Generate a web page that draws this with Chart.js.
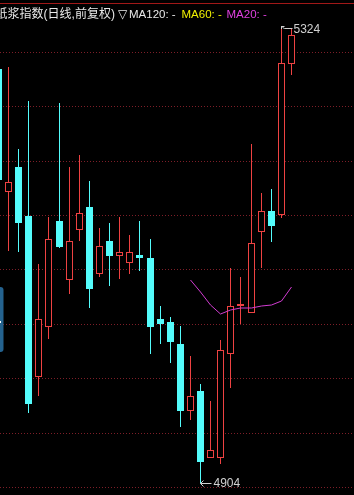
<!DOCTYPE html>
<html><head><meta charset="utf-8">
<style>html,body{margin:0;padding:0;background:#000;overflow:hidden}canvas{display:block}</style>
<script src="https://cdn.jsdelivr.net/npm/chart.js@4.4.1/dist/chart.umd.min.js"></script>
</head><body>
<canvas id="c" width="354" height="495"></canvas>
<script>
// ---- data ----
const candleIdx = [0,1,2,3,4,5,6,7,8,9,10,11,12,13,14,15,16,17,18,19,20,21,22,23,24,25,26,27,28,29];
const opens  = [5284,5171,5194,5149,5001,5047,5145,5090,5136,5157,5096,5126,5112,5106,5113,5111,5054,5052,5031,4970,4988,4927,4927,5022,5066,5060,5134,5154,5150,5289];
const closes = [5182,5180,5143,4976,5054,5128,5121,5126,5152,5082,5122,5112,5116,5116,5111,5047,5050,5033,4970,4984,4923,4934,5026,5066,5068,5124,5154,5140,5290,5316];
const highs  = [5287,5286,5211,5255,5105,5148,5253,5194,5205,5181,5138,5143,5148,5132,5145,5128,5066,5056,5048,5020,4995,4979,5035,5101,5093,5215,5170,5174,5324,5321];
const lows   = [5178,5117,5116,4968,4984,5036,5120,5077,5126,5065,5093,5085,5091,5096,5099,5022,5031,5014,4955,4962,4904,4927,4921,4991,5050,5060,5101,5125,5147,5279];
const ma20Idx = [19,20,21,22,23,24,25,26,27,28,29];
const ma20    = [5090,5079,5067,5059,5063,5065,5065,5066,5067,5071,5084];
const gridValues = [4900,4950,5000,5050,5100,5150,5200,5250,5300];
const titleText = '纸浆指数(日线,前复权)';
const titleMark = '▽';
const maLabels = ['MA120: -','MA60: -','MA20: -'];
const maColors = ['#e8e8e8','#f0f000','#e040e0'];

const UP = 'rgb(238,66,66)';
const DOWN = 'rgb(84,252,252)';
const isUp = candleIdx.map(i => closes[i] >= opens[i]);

const wickData = candleIdx.map(i => ({x: i, y: [lows[i], highs[i]]}));
const bodyData = candleIdx.map(i => ({x: i, y: [opens[i], closes[i]]}));
const maData = ma20Idx.map((x, k) => ({x, y: ma20[k]}));

const hiIdx = highs.indexOf(Math.max(...highs));
const loIdx = lows.indexOf(Math.min(...lows));

const deco = {
  id: 'deco',
  beforeDraw(chart) {
    const c = chart.ctx;
    c.save();
    c.fillStyle = '#000';
    c.fillRect(0, 0, chart.width, chart.height);
    c.restore();
  },
  beforeDatasetsDraw(chart) {
    chart.ctx.save();
    chart.ctx.translate(0.5, 0);
  },
  afterDatasetsDraw(chart) {
    const c = chart.ctx;
    const xs = chart.scales.x, ys = chart.scales.y;
    c.strokeStyle = '#d0d0d0';
    c.fillStyle = '#d0d0d0';
    c.lineWidth = 1;
    c.font = "12px 'Liberation Sans', Arial, sans-serif";
    c.textBaseline = 'middle';
    // high marker
    let px = xs.getPixelForValue(hiIdx), py = Math.round(ys.getPixelForValue(highs[hiIdx]));
    c.beginPath();
    c.moveTo(px, py + 0.5); c.lineTo(px + 3, py + 0.5);
    c.moveTo(px, py); c.lineTo(px, py + 3);
    c.moveTo(px, py); c.lineTo(px + 3, py + 3);
    c.moveTo(px + 3, py + 2.5); c.lineTo(px + 11, py + 2.5);
    c.stroke();
    c.fillText(String(highs[hiIdx]), px + 12, py + 4);
    // low marker
    px = xs.getPixelForValue(loIdx); py = Math.round(ys.getPixelForValue(lows[loIdx])) + 0.5;
    c.beginPath();
    c.moveTo(px, py); c.lineTo(px + 11, py);
    c.moveTo(px, py); c.lineTo(px + 3, py - 3);
    c.moveTo(px, py); c.lineTo(px + 3, py + 3);
    c.stroke();
    c.fillText(String(lows[loIdx]), px + 13, py + 0.5);
    c.restore();
  },
  afterDraw(chart) {
    const c = chart.ctx;
    c.save();
    // top rule
    c.fillStyle = '#a01818';
    c.fillRect(0, 3, chart.width, 1);
    // header
    c.textBaseline = 'alphabetic';
    c.font = "12.5px 'Liberation Sans', 'Noto Sans CJK SC', sans-serif";
    c.fillStyle = '#e8e8e8';
    c.fillText(titleText, -4.5, 18, 119.5);
    c.font = "12px 'DejaVu Sans', sans-serif";
    c.fillText(titleMark, 118, 18);
    c.font = "11.5px 'Liberation Sans', Arial, sans-serif";
    const lx = [129, 181.5, 226.5];
    maLabels.forEach((t, k) => { c.fillStyle = maColors[k]; c.fillText(t, lx[k], 18); });
    // side tab
    c.fillStyle = 'rgb(36,98,142)';
    c.beginPath();
    c.roundRect(-6, 287, 9.5, 65, 3);
    c.fill();
    c.fillStyle = '#ffffff';
    c.fillRect(0, 321, 1, 2);
    c.restore();
  }
};

new Chart(document.getElementById('c'), {
  type: 'bar',
  data: {
    datasets: [
      {
        type: 'line', data: maData, borderColor: '#d23cd2', borderWidth: 1,
        pointRadius: 0, tension: 0, fill: false, order: 0
      },
      {
        data: bodyData, grouped: false, barThickness: 7, borderWidth: 1,
        borderSkipped: false, inflateAmount: 0, clip: false,
        backgroundColor: isUp.map(u => u ? '#000000' : DOWN),
        borderColor: isUp.map(u => u ? UP : DOWN), order: 1
      },
      {
        data: wickData, grouped: false, barThickness: 1, borderWidth: 0,
        inflateAmount: 0, clip: false,
        backgroundColor: isUp.map(u => u ? UP : DOWN), order: 2
      }
    ]
  },
  options: {
    responsive: false, animation: false, devicePixelRatio: 1, events: [],
    layout: {padding: 0},
    plugins: {legend: {display: false}, tooltip: {enabled: false}, title: {display: false}},
    scales: {
      x: {type: 'linear', min: 0.2078, max: 35.233, offset: false, display: false,
          alignToPixels: true, grid: {display: false}},
      y: {type: 'linear', min: 4892.6, max: 5347.8, display: true, alignToPixels: true,
          afterBuildTicks: a => { a.ticks = gridValues.map(v => ({value: v})); },
          ticks: {display: false},
          grid: {color: 'rgb(125,30,40)', lineWidth: 1, drawTicks: false},
          border: {display: false, dash: [1, 2]}}
    }
  },
  plugins: [deco]
});
</script>
</body></html>
